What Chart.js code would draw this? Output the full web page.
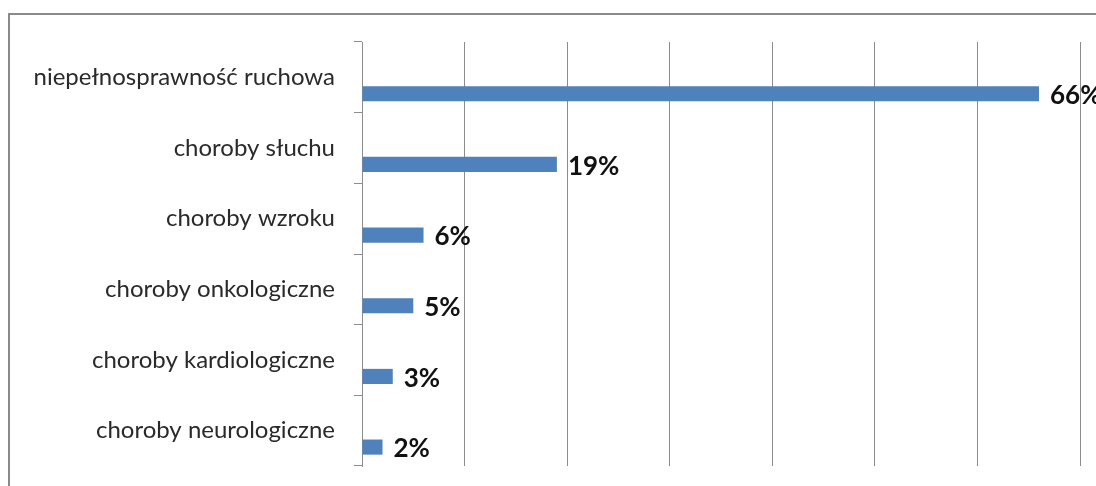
<!DOCTYPE html>
<html>
<head>
<meta charset="utf-8">
<script src="https://cdn.jsdelivr.net/npm/chart.js@4/dist/chart.umd.min.js"></script>
<style>
  html, body { margin: 0; padding: 0; background: #fff; }
  #wrap { width: 1096px; height: 486px; }
</style>
</head>
<body>
<div id="wrap"><canvas id="chart" width="1096" height="486"></canvas></div>
<script>
var categories = ['niepełnosprawność ruchowa', 'choroby słuchu', 'choroby wzroku',
                  'choroby onkologiczne', 'choroby kardiologiczne', 'choroby neurologiczne'];
var values = [66, 19, 6, 5, 3, 2];
var xTicks = [0, 10, 20, 30, 40, 50, 60, 70];

// frame around the whole chart
var framePlugin = {
    id: 'frame',
    beforeDraw: function (chart) {
        var c = chart.ctx;
        c.save();
        c.strokeStyle = '#8a8a8a';
        c.lineWidth = 2;
        c.strokeRect(9, 14, 1200, 600);
        c.restore();
    }
};

// percent labels to the right of each bar
var valueLabels = {
    id: 'valueLabels',
    afterDraw: function (chart) {
        var c = chart.ctx;
        var meta = chart.getDatasetMeta(1);
        c.save();
        c.font = 'bold 26px Lato';
        c.fillStyle = '#111';
        c.textBaseline = 'middle';
        c.textAlign = 'left';
        meta.data.forEach(function (bar, i) {
            c.fillText(values[i] + '%', bar.x + 11, bar.y + 2);
        });
        c.restore();
    }
};

var ctx = document.getElementById('chart').getContext('2d');
var myChart = new Chart(ctx, {
    type: 'bar',
    data: {
        labels: categories,
        datasets: [{
            label: 'spacer',
            data: categories.map(function () { return null; }),
            backgroundColor: 'rgba(0,0,0,0)'
        },
        {
            label: 'odsetek',
            data: values,
            backgroundColor: '#4F81BD',
            borderWidth: 0
        }]
    },
    options: {
        indexAxis: 'y',
        responsive: false,
        animation: false,
        categoryPercentage: 0.93,
        barPercentage: 0.46,
        layout: { padding: { left: 0, right: 16, top: 42, bottom: 20 } },
        plugins: {
            legend: { display: false },
            tooltip: { enabled: false }
        },
        scales: {
            x: {
                min: 0,
                max: 70,
                z: 1,
                afterBuildTicks: function (s) {
                    s.ticks = xTicks.map(function (v) { return { value: v }; });
                },
                afterFit: function (s) { s.height = 0; s.paddingLeft = 0; s.paddingRight = 0; },
                ticks: { display: false },
                grid: { color: '#8c8c8c', lineWidth: 1, drawTicks: false },
                border: { display: false }
            },
            y: {
                afterFit: function (s) { s.width = 362; s.paddingTop = 0; s.paddingBottom = 0; },
                ticks: {
                    color: '#2a2a2a',
                    font: { family: 'Lato', size: 24 },
                    padding: 19
                },
                grid: { drawOnChartArea: false, color: '#8c8c8c', tickLength: 8 },
                border: { color: '#8c8c8c', width: 1 }
            }
        }
    },
    plugins: [framePlugin, valueLabels]
});
</script>
</body>
</html>
